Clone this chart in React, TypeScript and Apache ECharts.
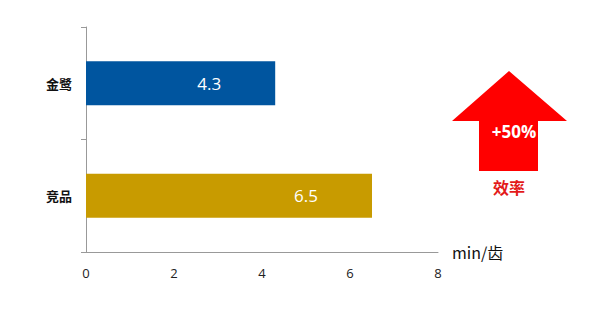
import React, { useEffect, useRef } from "react";
import * as echarts from "echarts";

const categories = ["竞品", "金鹭"];
const values = [6.5, 4.3];
const barColors = ["#C89B00", "#00559F"];
const xTicks = [0, 2, 4, 6, 8];
const axisName = "min/齿";
const badgeText = "+50%";
const badgeLabel = "效率";

export default function App() {
  const ref = useRef<HTMLDivElement>(null);
  useEffect(() => {
    const chart = echarts.init(ref.current!, null, { renderer: "svg" });
    chart.setOption({
      animation: false,
      grid: { left: 86, right: 164, top: 27, bottom: 61 },
      xAxis: {
        type: "value",
        min: xTicks[0],
        max: xTicks[xTicks.length - 1],
        interval: 2,
        name: axisName,
        nameLocation: "end",
        nameGap: 14,
        nameTextStyle: {
          fontSize: 16,
          color: "#111",
          fontFamily: "Noto Sans CJK SC",
          verticalAlign: "middle",
        },
        axisLine: { show: true, lineStyle: { color: "#999", width: 1 } },
        axisTick: { show: false },
        splitLine: { show: false },
        axisLabel: { margin: 14, fontSize: 13, color: "#222", fontFamily: "Open Sans" },
      },
      yAxis: {
        type: "category",
        data: categories,
        axisLine: { show: true, lineStyle: { color: "#999", width: 1 } },
        axisTick: { show: true, length: 5, lineStyle: { color: "#999" } },
        axisLabel: {
          margin: 14,
          fontSize: 13,
          fontWeight: "bold",
          color: "#111",
          fontFamily: "Noto Sans CJK SC",
        },
      },
      series: [
        {
          type: "bar",
          barWidth: "39%",
          data: values.map((v, i) => ({ value: v, itemStyle: { color: barColors[i] } })),
          label: {
            show: true,
            position: "insideRight",
            distance: 54,
            color: "#fff",
            fontSize: 17,
            fontFamily: "Open Sans",
          },
        },
      ],
      graphic: [
        {
          type: "polygon",
          shape: {
            points: [
              [509, 71],
              [567, 121],
              [538, 121],
              [538, 171],
              [479, 171],
              [479, 121],
              [452, 121],
            ],
          },
          style: { fill: "#FF0000" },
        },
        {
          type: "text",
          x: 514,
          y: 131,
          style: {
            text: badgeText,
            fill: "#fff",
            fontSize: 17,
            fontWeight: "bold",
            fontFamily: "Open Sans",
            align: "center",
            verticalAlign: "middle",
          },
        },
        {
          type: "text",
          x: 509,
          y: 187,
          style: {
            text: badgeLabel,
            fill: "#E31A1A",
            fontSize: 16,
            fontWeight: "bold",
            fontFamily: "Noto Sans CJK SC",
            align: "center",
            verticalAlign: "middle",
          },
        },
      ],
    });
    return () => chart.dispose();
  }, []);
  return <div ref={ref} style={{ width: 602, height: 313, position: "absolute", left: 0, top: 0 }} />;
}
